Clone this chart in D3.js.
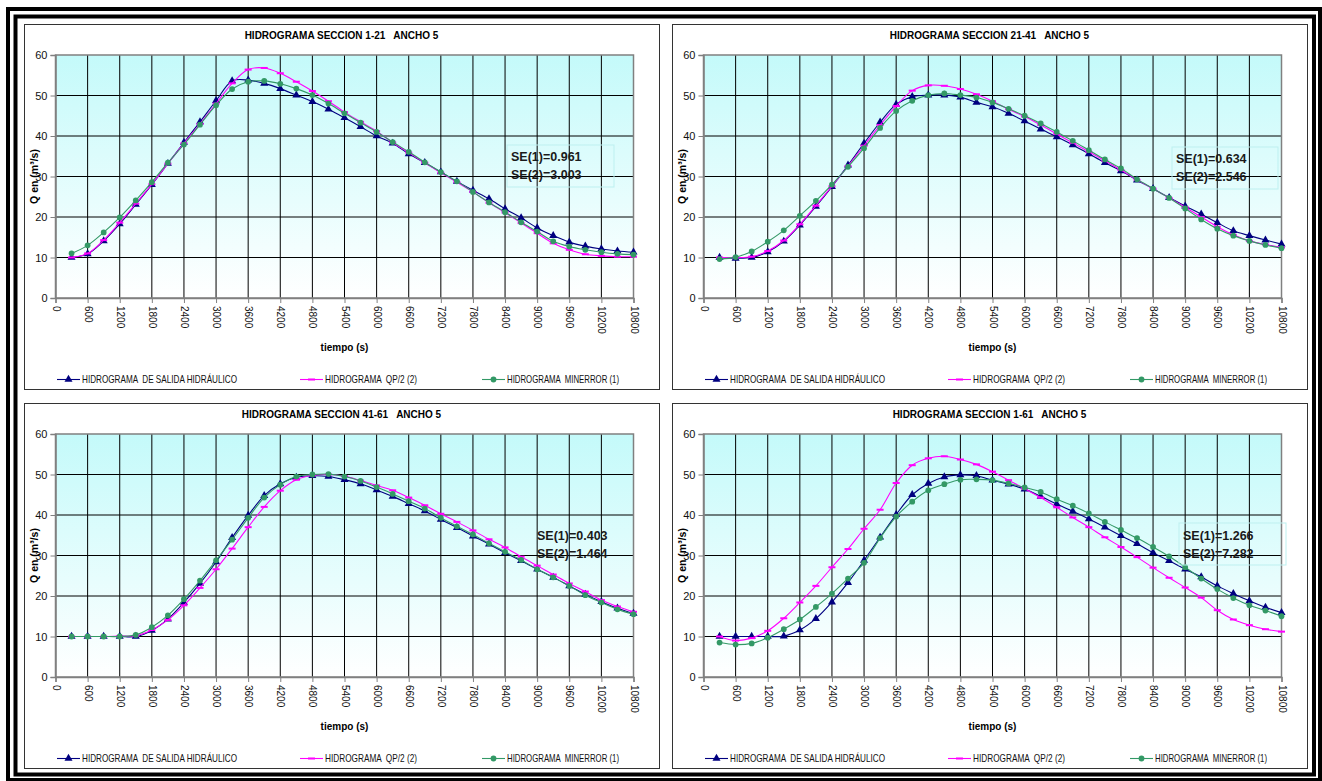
<!DOCTYPE html>
<html>
<head>
<meta charset="utf-8">
<script src="https://cdn.jsdelivr.net/npm/d3@7"></script>
<style>
  body { margin: 0; background: #fff; }
  svg { display: block; font-family: "Liberation Sans", Arial, sans-serif; }
  text { white-space: pre; }
</style>
</head>
<body>
<div id="chart"></div>
<script>
// tiempo (s) de cada punto
var tiempo = [300, 600, 900, 1200, 1500, 1800, 2100, 2400, 2700, 3000, 3300, 3600,
              3900, 4200, 4500, 4800, 5100, 5400, 5700, 6000, 6300, 6600, 6900, 7200,
              7500, 7800, 8100, 8400, 8700, 9000, 9300, 9600, 9900, 10200, 10500, 10800];
var xTicks = [0, 600, 1200, 1800, 2400, 3000, 3600, 4200, 4800, 5400, 6000, 6600,
              7200, 7800, 8400, 9000, 9600, 10200, 10800];
var yTicks = [0, 10, 20, 30, 40, 50, 60];

var nombresSerie = ["HIDROGRAMA  DE SALIDA HIDRÁULICO", "HIDROGRAMA  QP/2 (2)", "HIDROGRAMA  MINERROR (1)"];

// seccion 1-21
var hidraulico_1_21 = [10, 10.9, 14.1, 18.3, 23.1, 28, 33.2, 38.4, 43.5, 48.7, 53.6, 53.8,
                       53, 51.7, 50.1, 48.5, 46.6, 44.5, 42.3, 40, 38.2, 35.6, 33.4, 31.1,
                       28.8, 26.6, 24.5, 22, 19.8, 17.3, 15.4, 13.8, 12.8, 12.1, 11.6, 11.3];
var qp2_1_21 = [10, 11, 14.3, 18.6, 23.3, 28.1, 33.2, 38.2, 43, 48, 53, 56.4,
                56.8, 55.5, 53.4, 51.1, 48.6, 45.9, 43.5, 41.2, 38.4, 35.9, 33.4, 30.9,
                28.6, 26.2, 23.5, 21.1, 18.5, 16, 13.5, 11.9, 10.8, 10.4, 10.2, 10.2];
var minerror_1_21 = [11, 13, 16.2, 19.9, 24.1, 28.6, 33.4, 37.9, 42.8, 47.6, 51.6, 53.4,
                     53.6, 52.9, 51.7, 50.1, 48, 45.6, 43.3, 41, 38.5, 36.1, 33.5, 31.1,
                     28.8, 26.2, 23.6, 21.2, 18.7, 16.4, 14, 12.7, 11.9, 11.3, 10.9, 10.7];

// seccion 21-41
var hidraulico_21_41 = [10, 9.8, 10, 11.4, 14, 18, 22.6, 27.5, 32.8, 38.2, 43.4, 47.8,
                        49.7, 50.1, 50.1, 49.6, 48.3, 47.2, 45.6, 43.7, 41.7, 39.8, 37.8, 35.6,
                        33.4, 31.4, 29.1, 27, 24.8, 22.7, 20.7, 18.6, 16.6, 15.4, 14.3, 13.3];
var qp2_21_41 = [10, 10, 10.2, 11.6, 14.2, 18.2, 22.8, 27.6, 32.6, 37.6, 42.7, 47.4,
                 51.2, 52.5, 52.4, 51.6, 50.3, 48.6, 46.6, 44.8, 42.7, 40.5, 38.3, 36.1,
                 33.9, 31.6, 29.2, 27, 24.7, 22.4, 20, 17.6, 15.6, 14.1, 13.2, 12.5];
var minerror_21_41 = [9.6, 10.1, 11.5, 13.9, 16.7, 20.3, 24, 28, 32.4, 37, 42, 46.2,
                      48.7, 50.1, 50.5, 50.1, 49.5, 48.3, 46.7, 45, 43.1, 41, 38.8, 36.5,
                      34.2, 32, 29.3, 27, 24.7, 22.1, 19.4, 17.1, 15.4, 14.1, 13.1, 12.3];

// seccion 41-61
var hidraulico_41_61 = [10, 10, 10, 10, 10, 11.5, 14.3, 18.4, 23.1, 28.4, 34.4, 39.9,
                        44.8, 47.7, 49.3, 49.7, 49.5, 48.7, 47.7, 46.2, 44.6, 42.8, 41, 38.9,
                        36.9, 34.8, 32.8, 30.7, 28.7, 26.6, 24.6, 22.5, 20.4, 18.6, 17, 15.7];
var qp2_41_61 = [10, 10, 10, 10.1, 10.2, 11.6, 14.1, 17.7, 22, 26.6, 31.7, 37,
                 42, 46, 48.7, 49.8, 50, 49.6, 48.5, 47.3, 46.1, 44.3, 42.4, 40.3,
                 38.3, 36.2, 34, 32, 29.7, 27.5, 25.3, 23.1, 21.1, 19, 17.4, 16.1];
var minerror_41_61 = [10, 10, 10, 10, 10.4, 12.3, 15.2, 19.2, 23.8, 28.8, 33.9, 39.3,
                      44.3, 47.5, 49.5, 50, 50.1, 49.5, 48.4, 46.9, 45.2, 43.4, 41.6, 39.3,
                      37.2, 35.2, 33, 30.9, 28.9, 26.6, 24.6, 22.5, 20.2, 18.4, 16.7, 15.5];

// seccion 1-61
var hidraulico_1_61 = [10, 10, 10, 10, 10.1, 11.6, 14.4, 18.5, 23.3, 28.8, 34.5, 40.1,
                       45, 47.8, 49.4, 49.9, 49.7, 48.6, 47.6, 46.4, 44.6, 42.7, 40.9, 39,
                       37, 34.9, 32.9, 30.7, 28.7, 26.6, 24.7, 22.5, 20.6, 18.8, 17.2, 15.9];
var qp2_1_61 = [10, 9, 9.6, 11.4, 14.5, 18.4, 22.5, 27.1, 31.6, 36.6, 41.3, 47.9,
                52.3, 54, 54.5, 53.7, 52.5, 50.7, 48.6, 46.5, 44.3, 41.9, 39.4, 37,
                34.5, 32.1, 29.6, 27, 24.5, 22.1, 19.6, 16.5, 14.2, 12.8, 11.8, 11.2];
var minerror_1_61 = [8.5, 8, 8.3, 9.7, 11.8, 14.2, 17.3, 20.6, 24.3, 28.2, 34.3, 39.6,
                     43.3, 46.1, 47.6, 48.7, 48.8, 48.6, 47.8, 46.8, 45.7, 43.9, 42.3, 40.4,
                     38.3, 36.3, 34.3, 32.1, 29.8, 27.1, 24.3, 21.7, 19.5, 17.7, 16.4, 15];

var titulos = ["HIDROGRAMA SECCION 1-21   ANCHO 5", "HIDROGRAMA SECCION 21-41   ANCHO 5",
               "HIDROGRAMA SECCION 41-61   ANCHO 5", "HIDROGRAMA SECCION 1-61   ANCHO 5"];
var se1 = ["SE(1)=0.961", "SE(1)=0.634", "SE(1)=0.403", "SE(1)=1.266"];
var se2 = ["SE(2)=3.003", "SE(2)=2.546", "SE(2)=1.464", "SE(2)=7.282"];

var series = [
    [hidraulico_1_21, qp2_1_21, minerror_1_21],
    [hidraulico_21_41, qp2_21_41, minerror_21_41],
    [hidraulico_41_61, qp2_41_61, minerror_41_61],
    [hidraulico_1_61, qp2_1_61, minerror_1_61]
];

// layout de cada panel (posicion, caja de SE)
var paneles = [
    { x: 24,  y: 24,  nota: [487, 133], caja: [483, 121, 107, 42] },
    { x: 672, y: 24,  nota: [504, 135], caja: [500, 123, 106, 42] },
    { x: 24,  y: 403, nota: [513, 133], caja: null },
    { x: 672, y: 403, nota: [511, 133], caja: [507, 120, 107, 42] }
];
var colores = ["#000080", "#ff00ff", "#339966"];

var W = 1322, H = 781;
var svg = d3.select("#chart").append("svg")
    .attr("width", W)
    .attr("height", H);

var defs = svg.append("defs");
var grad = defs.append("linearGradient")
    .attr("id", "fondo")
    .attr("x1", 0).attr("y1", 0).attr("x2", 0).attr("y2", 1);
grad.append("stop").attr("offset", "0%").attr("stop-color", "#c4fafa");
grad.append("stop").attr("offset", "100%").attr("stop-color", "#ffffff");

// doble marco exterior
svg.append("rect")
    .attr("x", 8).attr("y", 9).attr("width", 1312).attr("height", 771)
    .attr("fill", "none").attr("stroke", "#000").attr("stroke-width", 4);
svg.append("rect")
    .attr("x", 15.5).attr("y", 16.5).attr("width", 1298.5).attr("height", 758)
    .attr("fill", "none").attr("stroke", "#000").attr("stroke-width", 4);

var pw = 635, ph = 365;
var margin = { left: 31.5, top: 31, right: 25.5, bottom: 91 };
var width = pw - margin.left - margin.right,
    height = ph - margin.top - margin.bottom;

var x = d3.scaleLinear().domain([0, 10800]).range([0, width]);
var y = d3.scaleLinear().domain([0, 60]).range([height, 0]);

var linea = d3.line()
    .x(function(d) { return x(d.t); })
    .y(function(d) { return y(d.q); })
    .curve(d3.curveCatmullRom.alpha(0.5));

function marcador(sel, k) {
    if (k === 0) {
        sel.append("path")
            .attr("d", d3.symbol().type(d3.symbolTriangle).size(28)())
            .attr("fill", colores[0]);
    } else if (k === 1) {
        sel.append("rect")
            .attr("x", -3.5).attr("y", -1).attr("width", 7).attr("height", 2)
            .attr("fill", colores[1]);
    } else {
        sel.append("path")
            .attr("d", d3.symbol().type(d3.symbolCircle).size(26)())
            .attr("fill", colores[2]);
    }
}

paneles.forEach(function(p, i) {
    var g = svg.append("g")
        .attr("transform", "translate(" + p.x + "," + p.y + ")");

    g.append("rect")
        .attr("x", 0.5).attr("y", 0.5).attr("width", pw).attr("height", ph)
        .attr("fill", "#fff").attr("stroke", "#333").attr("stroke-width", 1);

    g.append("text")
        .attr("x", pw / 2).attr("y", 14.5)
        .attr("text-anchor", "middle")
        .attr("font-size", 10).attr("font-weight", "bold")
        .text(titulos[i]);

    var plot = g.append("g")
        .attr("transform", "translate(" + margin.left + "," + margin.top + ")");

    plot.append("rect")
        .attr("width", width).attr("height", height)
        .attr("fill", "url(#fondo)");

    // rejilla
    plot.selectAll(".gy").data(yTicks.slice(1, -1)).enter().append("line")
        .attr("x1", 0).attr("x2", width)
        .attr("y1", function(d) { return y(d); })
        .attr("y2", function(d) { return y(d); })
        .attr("stroke", "#000").attr("stroke-width", 1);
    plot.selectAll(".gx").data(xTicks.slice(1, -1)).enter().append("line")
        .attr("y1", 0).attr("y2", height)
        .attr("x1", function(d) { return x(d); })
        .attr("x2", function(d) { return x(d); })
        .attr("stroke", "#000").attr("stroke-width", 1);

    plot.append("rect")
        .attr("width", width).attr("height", height)
        .attr("fill", "none").attr("stroke", "#808080").attr("stroke-width", 1.5);

    // ejes
    var yAxis = d3.axisLeft(y).tickValues(yTicks).tickSize(5).tickPadding(3);
    var xAxis = d3.axisBottom(x).tickValues(xTicks).tickSize(5).tickFormat(d3.format("d"));

    var gy = plot.append("g").attr("class", "y-axis axis").call(yAxis);
    gy.select(".domain").attr("stroke", "#808080").attr("stroke-width", 1.5);
    gy.selectAll(".tick line").attr("stroke", "#808080");
    gy.selectAll("text").attr("font-size", 11).attr("fill", "#111")
        .attr("font-family", "Liberation Sans, Arial, sans-serif");

    var gx = plot.append("g").attr("class", "x-axis axis")
        .attr("transform", "translate(0," + height + ")")
        .call(xAxis);
    gx.select(".domain").attr("stroke", "#808080").attr("stroke-width", 1.5);
    gx.selectAll(".tick line").attr("stroke", "#808080");
    gx.selectAll("text")
        .attr("font-size", 10).attr("fill", "#111")
        .attr("font-family", "Liberation Sans, Arial, sans-serif")
        .attr("y", 0).attr("dy", "0.35em")
        .attr("transform", "translate(0,8) rotate(90)")
        .attr("text-anchor", "start");

    // titulos de ejes
    g.append("text")
        .attr("transform", "translate(13.5," + (margin.top + height / 2) + ") rotate(-90)")
        .attr("text-anchor", "middle")
        .attr("font-size", 10.5).attr("font-weight", "bold")
        .text("Q en (m³/s)");
    g.append("text")
        .attr("x", margin.left + width / 2).attr("y", 326.5)
        .attr("text-anchor", "middle")
        .attr("font-size", 10).attr("font-weight", "bold")
        .text("tiempo (s)");

    // series
    series[i].forEach(function(valores, k) {
        var datos = tiempo.map(function(t, j) { return { t: t, q: valores[j] }; });
        plot.append("path")
            .datum(datos)
            .attr("fill", "none")
            .attr("stroke", colores[k])
            .attr("stroke-width", 1.1)
            .attr("d", linea);
        plot.selectAll(".m" + k).data(datos).enter().append("g")
            .attr("transform", function(d) { return "translate(" + x(d.t) + "," + y(d.q) + ")"; })
            .each(function() { marcador(d3.select(this), k); });
    });

    // nota SE
    if (p.caja) {
        g.append("rect")
            .attr("x", p.caja[0]).attr("y", p.caja[1])
            .attr("width", p.caja[2]).attr("height", p.caja[3])
            .attr("fill", "none").attr("stroke", "#bdf0f0").attr("stroke-width", 1);
    }
    g.append("text")
        .attr("x", p.nota[0]).attr("y", p.nota[1]).attr("dy", "0.35em")
        .attr("font-size", 12.5).attr("font-weight", "bold").attr("fill", "#1a1a1a")
        .text(se1[i]);
    g.append("text")
        .attr("x", p.nota[0]).attr("y", p.nota[1] + 18).attr("dy", "0.35em")
        .attr("font-size", 12.5).attr("font-weight", "bold").attr("fill", "#1a1a1a")
        .text(se2[i]);

    // leyenda
    var leyX = [33, 276, 458];
    var leyW = [155, 92, 112];
    nombresSerie.forEach(function(nombre, k) {
        var lg = g.append("g")
            .attr("transform", "translate(" + leyX[k] + ",355.5)");
        lg.append("line")
            .attr("x1", 0).attr("x2", 23)
            .attr("stroke", colores[k]).attr("stroke-width", 1.1);
        var m = lg.append("g").attr("transform", "translate(11.5,0)");
        marcador(m, k);
        lg.append("text")
            .attr("x", 25).attr("dy", "0.36em")
            .attr("font-size", 10.5).attr("fill", "#111")
            .attr("textLength", leyW[k]).attr("lengthAdjust", "spacingAndGlyphs")
            .text(nombre);
    });
});
</script>
</body>
</html>
